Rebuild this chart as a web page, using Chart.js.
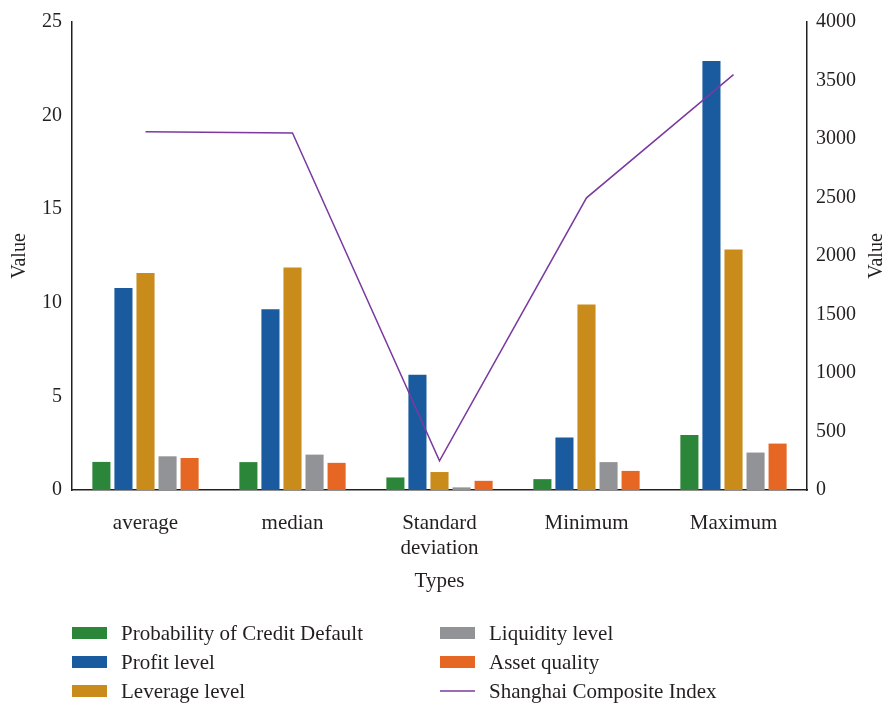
<!DOCTYPE html>
<html>
<head>
<meta charset="utf-8">
<script src="https://cdn.jsdelivr.net/npm/chart.js@4"></script>
<style>
  html, body { margin: 0; padding: 0; background: #fff; }
  #wrap { width: 887px; height: 705px; position: relative; }
</style>
</head>
<body>
<div id="wrap"><canvas id="chart" width="887" height="705"></canvas></div>
<script>
// data
const categories = ['average', 'median', ['Standard', 'deviation'], 'Minimum', 'Maximum'];
const creditDefault = [1.50, 1.49, 0.67, 0.58, 2.94];
const profitLevel = [10.79, 9.66, 6.16, 2.81, 22.91];
const leverageLevel = [11.59, 11.89, 0.96, 9.91, 12.85];
const liquidityLevel = [1.80, 1.89, 0.14, 1.49, 2.00];
const assetQuality = [1.71, 1.45, 0.49, 1.02, 2.48];
const shanghaiIndex = [3062, 3052, 250, 2497, 3550];
const leftTicks = [0, 5, 10, 15, 20, 25];
const rightTicks = [0, 500, 1000, 1500, 2000, 2500, 3000, 3500, 4000];

const FONT = '"Liberation Serif", "DejaVu Serif", serif';
const TEXT = '#231f20';

function bar(label, data, color) {
  return {
    type: 'bar', label: label, data: data, yAxisID: 'y',
    backgroundColor: color, borderWidth: 0,
    categoryPercentage: 0.75, barPercentage: 0.82, order: 2
  };
}

// legend in two columns, axis titles (both read upwards) and the x title
const sideBits = {
  id: 'sideBits',
  afterDraw(chart) {
    const ctx = chart.ctx;
    const ds = chart.data.datasets;
    const cols = [[0, 1, 2], [3, 4, 5]];
    const colX = [72, 440];
    const rowY = [633, 662, 691];
    ctx.save();
    ctx.font = '21px ' + FONT;
    ctx.textBaseline = 'middle';
    cols.forEach((col, c) => {
      col.forEach((i, r) => {
        const d = ds[i];
        const x = colX[c], y = rowY[r];
        if (d.type === 'line') {
          ctx.strokeStyle = d.borderColor;
          ctx.lineWidth = 1.5;
          ctx.beginPath(); ctx.moveTo(x, y); ctx.lineTo(x + 35, y); ctx.stroke();
        } else {
          ctx.fillStyle = d.backgroundColor;
          ctx.fillRect(x, y - 6, 35, 12);
        }
        ctx.fillStyle = TEXT;
        ctx.textAlign = 'left';
        ctx.fillText(d.label, x + 49, y + 1);
      });
    });
    const a = chart.chartArea;
    ctx.fillStyle = TEXT;
    ctx.textAlign = 'center';
    ctx.fillText('Types', (a.left + a.right) / 2, 581);
    ctx.font = '20px ' + FONT;
    [20, 877].forEach(x => {
      ctx.save();
      ctx.translate(x, (a.top + a.bottom) / 2);
      ctx.rotate(-Math.PI / 2);
      ctx.fillText('Value', 0, 0);
      ctx.restore();
    });
    ctx.restore();
  }
};

new Chart(document.getElementById('chart'), {
  data: {
    labels: categories,
    datasets: [
      bar('Probability of Credit Default', creditDefault, '#2b8639'),
      bar('Profit level', profitLevel, '#1a5b9f'),
      bar('Leverage level', leverageLevel, '#c98b1a'),
      bar('Liquidity level', liquidityLevel, '#929396'),
      bar('Asset quality', assetQuality, '#e66724'),
      {
        type: 'line', label: 'Shanghai Composite Index', data: shanghaiIndex, yAxisID: 'y1',
        borderColor: '#7a3aa0', borderWidth: 1.5, pointRadius: 0, tension: 0, fill: false, order: 1
      }
    ]
  },
  options: {
    responsive: false,
    animation: false,
    layout: { padding: { top: 19, left: 0, right: 0, bottom: 0 } },
    plugins: { legend: { display: false }, tooltip: { enabled: false } },
    scales: {
      x: {
        grid: { display: false, drawTicks: false },
        border: { display: true, color: TEXT, width: 1.5 },
        ticks: { color: TEXT, font: { family: FONT, size: 21, lineHeight: 1.2 }, padding: 21, maxRotation: 0 },
        afterFit(s) { s.height = 215; }
      },
      y: {
        position: 'left', min: 0, max: 25,
        afterBuildTicks(s) { s.ticks = leftTicks.map(v => ({ value: v })); },
        grid: { display: false, drawTicks: false },
        border: { display: true, color: TEXT, width: 1.5 },
        ticks: { color: TEXT, font: { family: FONT, size: 20 }, padding: 10 },
        afterFit(s) { s.width = 72; }
      },
      y1: {
        position: 'right', min: 0, max: 4000,
        afterBuildTicks(s) { s.ticks = rightTicks.map(v => ({ value: v })); },
        grid: { display: false, drawTicks: false },
        border: { display: true, color: TEXT, width: 1.5 },
        ticks: { color: TEXT, font: { family: FONT, size: 20 }, padding: 9, callback: v => String(v) },
        afterFit(s) { s.width = 80; }
      }
    }
  },
  plugins: [sideBits]
});
</script>
</body>
</html>
